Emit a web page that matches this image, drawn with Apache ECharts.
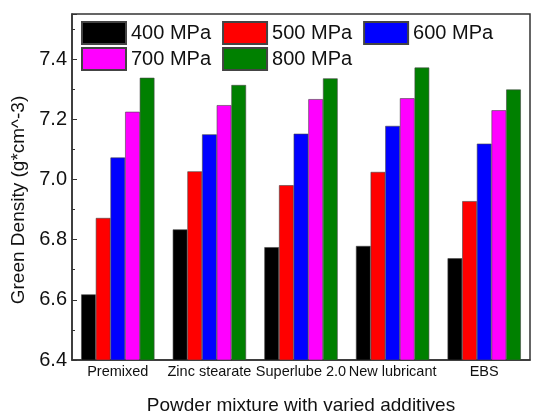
<!DOCTYPE html>
<html>
<head>
<meta charset="utf-8">
<script src="https://cdn.jsdelivr.net/npm/echarts@6/dist/echarts.min.js"></script>
<style>
  html, body { margin: 0; padding: 0; background: #fff; }
  #chart { width: 534px; height: 414px; }
</style>
</head>
<body>
<div id="chart"></div>
<script>
// data
var categories = ['Premixed', 'Zinc stearate', 'Superlube 2.0', 'New lubricant', 'EBS']
var seriesNames = ['400 MPa', '500 MPa', '600 MPa', '700 MPa', '800 MPa']
var mpa400 = [6.618, 6.834, 6.775, 6.779, 6.738]
var mpa500 = [6.872, 7.027, 6.981, 7.025, 6.928]
var mpa600 = [7.073, 7.150, 7.152, 7.178, 7.119]
var mpa700 = [7.225, 7.247, 7.267, 7.270, 7.230]
var mpa800 = [7.338, 7.314, 7.336, 7.372, 7.299]
var colors = ['#000000', '#ff0000', '#0000ff', '#ff00ff', '#008000']

var allValues = [mpa400, mpa500, mpa600, mpa700, mpa800]
var font = 'Liberation Sans, Arial, sans-serif'

var chart = echarts.init(document.getElementById('chart'))

var series = seriesNames.map(function (name, i) {
    return {
        name: name,
        type: 'bar',
        barGap: '0%',
        barCategoryGap: '20%',
        itemStyle: {
            color: colors[i],
            borderColor: '#444',
            borderWidth: 0.6
        },
        data: allValues[i]
    }
})

var legendStyle = {
    orient: 'horizontal',
    left: 76,
    icon: 'rect',
    itemWidth: 44,
    itemHeight: 22,
    itemGap: 11,
    textStyle: { fontFamily: font, fontSize: 20, color: '#111' }
}

var option = {
    animation: false,
    color: colors,
    legend: [
        Object.assign({ top: 16, data: seriesNames.slice(0, 3) }, legendStyle),
        Object.assign({ top: 42, data: seriesNames.slice(3) }, legendStyle)
    ],
    grid: {
        left: 72,
        right: 4,
        top: 14,
        bottom: 54,
        containLabel: false,
        outerBoundsMode: 'none',
        show: true,
        borderColor: '#333',
        borderWidth: 1.5
    },
    xAxis: {
        type: 'category',
        data: categories,
        name: 'Powder mixture with varied additives',
        nameLocation: 'middle',
        nameGap: 36,
        nameTextStyle: { fontFamily: font, fontSize: 19, color: '#111' },
        axisLine: { lineStyle: { color: '#333', width: 1.5 } },
        axisTick: { show: false },
        axisLabel: { fontFamily: font, fontSize: 14.5, color: '#111', margin: 4, interval: 0 }
    },
    yAxis: {
        type: 'value',
        min: 6.4,
        max: 7.55,
        interval: 0.2,
        name: 'Green Density (g*cm^-3)',
        nameLocation: 'middle',
        nameGap: 40,
        nameTextStyle: { fontFamily: font, fontSize: 19, color: '#111', padding: [0, 26, 0, 0] },
        axisLine: { show: true, lineStyle: { color: '#333', width: 1.5 } },
        axisTick: { show: true, inside: true, length: 5, lineStyle: { color: '#333' } },
        minorTick: { show: true, splitNumber: 2, length: 3, lineStyle: { color: '#333' } },
        splitLine: { show: false },
        axisLabel: {
            fontFamily: font, fontSize: 20, color: '#111', margin: 5,
            showMaxLabel: false,
            formatter: function (v) { return v.toFixed(1) }
        }
    },
    series: series
}
chart.setOption(option)
</script>
</body>
</html>
